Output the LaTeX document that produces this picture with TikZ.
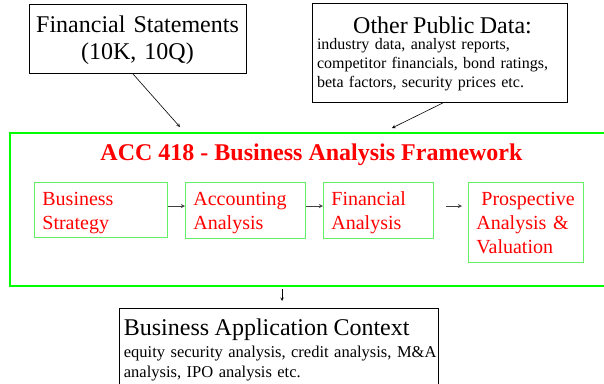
\documentclass[tikz,border=0pt]{standalone}
\usepackage{fontspec}
\setmainfont{Liberation Serif}

\definecolor{framegreen}{RGB}{0,255,0}
\definecolor{stagegreen}{RGB}{100,240,100}
\definecolor{stagered}{RGB}{255,0,0}

\tikzset{
	source/.style = {draw, line width = 0.8pt, inner sep = 0pt},
	stage/.style = {draw = stagegreen, line width = 0.8pt, text = stagered, anchor = north west, align = left, inner xsep = 8pt, inner ysep = 0pt, font = \fontsize{20}{24}\selectfont},
	link/.style = {-stealth, line width = 0.6pt}
}

\begin{document}
\begin{tikzpicture}[x = 1pt, y = -1pt]
		%page
		\useasboundingbox (0,0) rectangle (604,383);
		\clip (0,0) rectangle (604,383);
		
		%sources
		\node [source, text width = 217pt, align = center, text height = 21pt, minimum height = 69pt, font = \fontsize{24}{27}\selectfont] (statements) at (137.5,38.5) {Financial Statements\\(10K, 10Q)};
		\node [source, text width = 245pt, inner xsep = 5pt, align = left, text height = 18.5pt, minimum height = 99pt, font = \fontsize{16}{19}\selectfont] (other) at (439.5,52.5) {\makebox[245pt]{\fontsize{24}{24}\selectfont\hspace{6pt}Other Public Data:}\\[-3pt] industry data, analyst reports,\\ competitor financials, bond ratings,\\ beta factors, security prices etc.};
		
		%framework
		\node [draw = framegreen, line width = 2.4pt, outer sep = 0pt, anchor = north west, minimum width = 620pt, minimum height = 153pt] (framework) at (10,133) {};
		\node [anchor = base, text = stagered, font = \fontsize{24}{24}\selectfont\bfseries] (title) at (311.5,160) {ACC 418 - Business Analysis Framework};
		
		%stages
		\node [stage, text width = 117pt, text height = 19.5pt, minimum height = 55pt] (strategy) at (34,182) {Business\\Strategy};
		\node [stage, text width = 104pt, text height = 19.5pt, minimum height = 56pt] (accounting) at (185,182) {Accounting\\Analysis};
		\node [stage, text width = 94pt, text height = 19.5pt, minimum height = 56pt] (financial) at (323,182) {Financial\\Analysis};
		\node [stage, text width = 99pt, text height = 14pt, minimum height = 80pt] (prospective) at (468,182) {\hspace*{5pt}Prospective\\Analysis \&\\Valuation};
		
		%context
		\node [source, anchor = north west, text width = 310pt, inner xsep = 4.5pt, inner ysep = 10.5pt, align = left, font = \fontsize{16.5}{19.5}\selectfont] (context) at (119,308) {{\fontsize{24}{24}\selectfont Business Application Context}\\[2.5pt] \mbox{equity security analysis, credit analysis, M\&A}\\ analysis, IPO analysis etc.};
		
		%coordinates
		\coordinate (statements in) at (180,127);
		\coordinate (other in) at (392,128);
		\coordinate (flow) at (0,206);
		\coordinate (drop) at (282,0);
		
		%inputs
		\draw [link] ([xshift = -5pt]statements.south) -- (statements in);
		\draw [link] ([xshift = 4.5pt]other.south) -- (other in);
		
		%flow
		\draw [link, black!75, line width = 0.9pt] (strategy.east |- flow) -- (accounting.west |- flow);
		\draw [link, black!75, line width = 0.9pt] (accounting.east |- flow) -- (financial.west |- flow);
		\draw [link, black!75, line width = 0.9pt] ([xshift = 12pt]financial.east |- flow) -- ([xshift = -6pt]prospective.west |- flow);
		
		%output
		\draw [link, shorten <= 3pt, shorten >= 7pt] (framework.south -| drop) -- (context.north -| drop);
	\end{tikzpicture}
\end{document}
